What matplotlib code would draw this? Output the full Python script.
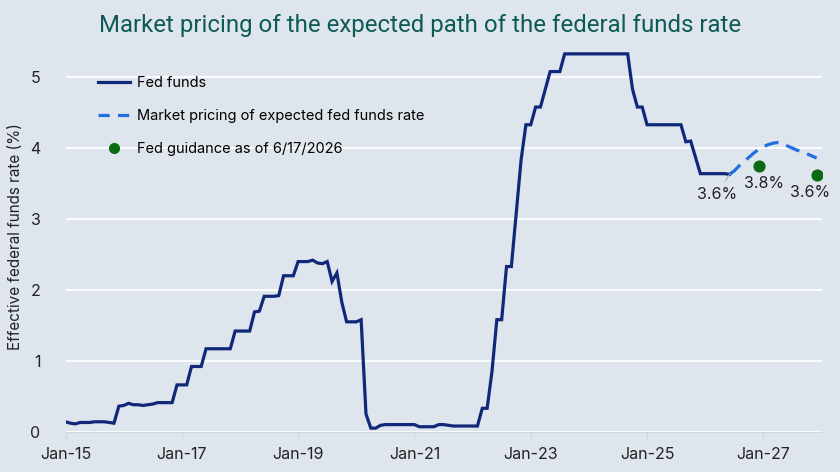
import matplotlib
matplotlib.use("Agg")
import matplotlib.pyplot as plt
from matplotlib.lines import Line2D

# monthly effective fed funds rate, Jan 2015 .. Jun 2026 (month index 0 = Jan 2015)
ff_2015 = [0.14, 0.12, 0.11, 0.13, 0.13, 0.13, 0.14, 0.14, 0.14, 0.13, 0.12, 0.36]
ff_2016 = [0.37, 0.40, 0.38, 0.38, 0.37, 0.38, 0.39, 0.41, 0.41, 0.41, 0.41, 0.66]
ff_2017 = [0.66, 0.66, 0.92, 0.92, 0.92, 1.17, 1.17, 1.17, 1.17, 1.17, 1.17, 1.42]
ff_2018 = [1.42, 1.42, 1.42, 1.69, 1.70, 1.91, 1.91, 1.91, 1.92, 2.20, 2.20, 2.20]
ff_2019 = [2.40, 2.40, 2.40, 2.42, 2.38, 2.37, 2.40, 2.12, 2.24, 1.83, 1.55, 1.55]
ff_2020 = [1.55, 1.58, 0.25, 0.05, 0.05, 0.09, 0.10, 0.10, 0.10, 0.10, 0.10, 0.10]
ff_2021 = [0.10, 0.07, 0.07, 0.07, 0.07, 0.10, 0.10, 0.09, 0.08, 0.08, 0.08, 0.08]
ff_2022 = [0.08, 0.08, 0.33, 0.33, 0.85, 1.58, 1.58, 2.33, 2.33, 3.08, 3.83, 4.33]
ff_2023 = [4.33, 4.58, 4.58, 4.83, 5.08, 5.08, 5.08, 5.33, 5.33, 5.33, 5.33, 5.33]
ff_2024 = [5.33, 5.33, 5.33, 5.33, 5.33, 5.33, 5.33, 5.33, 5.33, 4.83, 4.58, 4.58]
ff_2025 = [4.33, 4.33, 4.33, 4.33, 4.33, 4.33, 4.33, 4.33, 4.09, 4.10, 3.87, 3.64]
ff_2026 = [3.64, 3.64, 3.64, 3.64, 3.64, 3.63]

fed_funds = (ff_2015 + ff_2016 + ff_2017 + ff_2018 + ff_2019 + ff_2020 + ff_2021
             + ff_2022 + ff_2023 + ff_2024 + ff_2025 + ff_2026)
ff_months = list(range(len(fed_funds)))

# market pricing, Jun 2026 .. Dec 2027
market_months = list(range(137, 156))
market = [3.63, 3.68, 3.75, 3.81, 3.87, 3.93, 3.98, 4.02, 4.05, 4.07, 4.08,
          4.07, 4.03, 4.00, 3.97, 3.95, 3.92, 3.89, 3.86]

# Fed guidance dots (Dec 2026, Dec 2027)
guide_months = [143, 155]
guide_vals = [3.75, 3.62]
guide_labels = ["3.8%", "3.6%"]
label_shift = [1.2, -1.3]

tick_months = [0, 24, 48, 72, 96, 120, 144]
tick_labels = ["Jan-15", "Jan-17", "Jan-19", "Jan-21", "Jan-23", "Jan-25", "Jan-27"]

bg = "#dfe5ec"
navy = "#10287a"
blue = "#1f6fe0"
green = "#0b6a12"
txt = "#222222"

plt.rcParams["font.family"] = ["Inter", "DejaVu Sans"]

fig = plt.figure(figsize=(8.4, 4.72), dpi=100, facecolor=bg)
ax = fig.add_axes([0.078, 0.0854, 0.9, 0.826], facecolor=bg)

ax.plot(ff_months, fed_funds, color=navy, lw=2.3, solid_joinstyle="miter", zorder=3)
ax.plot(market_months, market, color=blue, lw=2.3, dashes=(4.5, 2.6), zorder=3)
ax.scatter(guide_months, guide_vals, s=60, color=green, zorder=4)

# value labels
ax.annotate("3.6%", xy=(ff_months[-1], fed_funds[-1]), xytext=(ff_months[-1] - 2.5, 3.34),
            ha="center", va="center", fontsize=11.5, color=txt,
            arrowprops=dict(arrowstyle="-", color="#aab0b8", lw=0.8, shrinkA=3, shrinkB=0))
for m, v, t, d in zip(guide_months, guide_vals, guide_labels, label_shift):
    ax.text(m + d, v - 0.25, t, ha="center", va="center", fontsize=11.5, color=txt)

ax.set_xlim(0, 156)
ax.set_ylim(0, 5.5)
ax.set_yticks([0, 1, 2, 3, 4, 5])
ax.set_xticks(tick_months)
ax.set_xticklabels(tick_labels)
ax.grid(axis="y", color="white", lw=1.3)
ax.set_axisbelow(True)
for s in ["top", "right", "left"]:
    ax.spines[s].set_visible(False)
ax.spines["bottom"].set_color("#cfd5dc")
ax.tick_params(axis="y", length=0, pad=18, labelsize=11.5, labelcolor=txt)
ax.tick_params(axis="x", length=5, color="#cfd5dc", pad=6, labelsize=11.5, labelcolor=txt)
ax.set_ylabel("Effective federal funds rate (%)", fontsize=11, color=txt, labelpad=5)

handles = [
    Line2D([], [], color=navy, lw=2.3),
    Line2D([], [], color=blue, lw=2.3, dashes=(3.5, 2.6)),
    Line2D([], [], marker="o", ls="none", color=green, markersize=7),
]
ax.legend(handles, ["Fed funds", "Market pricing of expected fed funds rate",
                    "Fed guidance as of 6/17/2026"],
          loc="upper left", bbox_to_anchor=(0.025, 0.945), frameon=False,
          fontsize=10.5, handlelength=2.2, handletextpad=0.5, labelspacing=1.3)

fig.suptitle("Market pricing of the expected path of the federal funds rate",
             x=0.5, y=0.97, fontsize=17.3, color="#0d5a58", fontfamily=["Roboto", "DejaVu Sans"])

fig.savefig("out.png", dpi=100, facecolor=bg)
